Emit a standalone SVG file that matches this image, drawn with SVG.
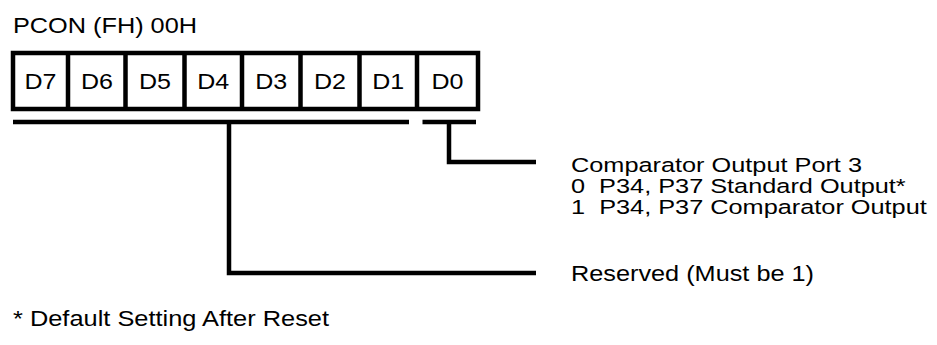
<svg xmlns="http://www.w3.org/2000/svg" width="937" height="345" viewBox="0 0 937 345">
<style>
text{font-family:"Liberation Sans",Arial,Helvetica,sans-serif;font-size:22px;fill:#000;white-space:pre}
.c{text-anchor:middle}
.s{font-size:20.5px}
.ln{fill:none;stroke:#000;stroke-width:4.5;stroke-linecap:butt;stroke-linejoin:miter}
.box{fill:#fff;stroke:#000;stroke-width:4.5}
</style>
<rect width="937" height="345" fill="#fff"/>
<text id="title" x="13" y="33" textLength="184" lengthAdjust="spacingAndGlyphs">PCON (FH) 00H</text>
<g id="register">
<rect class="box" x="13" y="53" width="465" height="56"/>
<path class="ln" d="M68 53V109M125.5 53V109M184.5 53V109M242 53V109M300.5 53V109M359.5 53V109M417 53V109"/>
</g>
<g id="bit-D7"><text class="c" x="40.5" y="89" textLength="32" lengthAdjust="spacingAndGlyphs">D7</text></g>
<g id="bit-D6"><text class="c" x="97" y="89" textLength="32" lengthAdjust="spacingAndGlyphs">D6</text></g>
<g id="bit-D5"><text class="c" x="155" y="89" textLength="32" lengthAdjust="spacingAndGlyphs">D5</text></g>
<g id="bit-D4"><text class="c" x="213.3" y="89" textLength="32" lengthAdjust="spacingAndGlyphs">D4</text></g>
<g id="bit-D3"><text class="c" x="271.3" y="89" textLength="32" lengthAdjust="spacingAndGlyphs">D3</text></g>
<g id="bit-D2"><text class="c" x="330" y="89" textLength="32" lengthAdjust="spacingAndGlyphs">D2</text></g>
<g id="bit-D1"><text class="c" x="388.3" y="89" textLength="32" lengthAdjust="spacingAndGlyphs">D1</text></g>
<g id="bit-D0"><text class="c" x="447.5" y="89" textLength="32" lengthAdjust="spacingAndGlyphs">D0</text></g>
<g id="connectors">
<path class="ln" d="M13 122H409"/>
<path class="ln" d="M229 122V273H536"/>
<path class="ln" d="M422.5 122H476"/>
<path class="ln" d="M449 122V162H536"/>
</g>
<g id="label-D0">
<text class="s" x="571" y="172" textLength="291" lengthAdjust="spacingAndGlyphs">Comparator Output Port 3</text>
<text class="s" x="571" y="193.2" textLength="334.7" lengthAdjust="spacingAndGlyphs">0  P34, P37 Standard Output*</text>
<text class="s" x="571" y="214.4" textLength="355.8" lengthAdjust="spacingAndGlyphs">1  P34, P37 Comparator Output</text>
</g>
<g id="label-reserved">
<text x="571" y="281" textLength="243" lengthAdjust="spacingAndGlyphs">Reserved (Must be 1)</text>
</g>
<g id="footnote">
<text x="13" y="326" textLength="316" lengthAdjust="spacingAndGlyphs">* Default Setting After Reset</text>
</g>
</svg>
